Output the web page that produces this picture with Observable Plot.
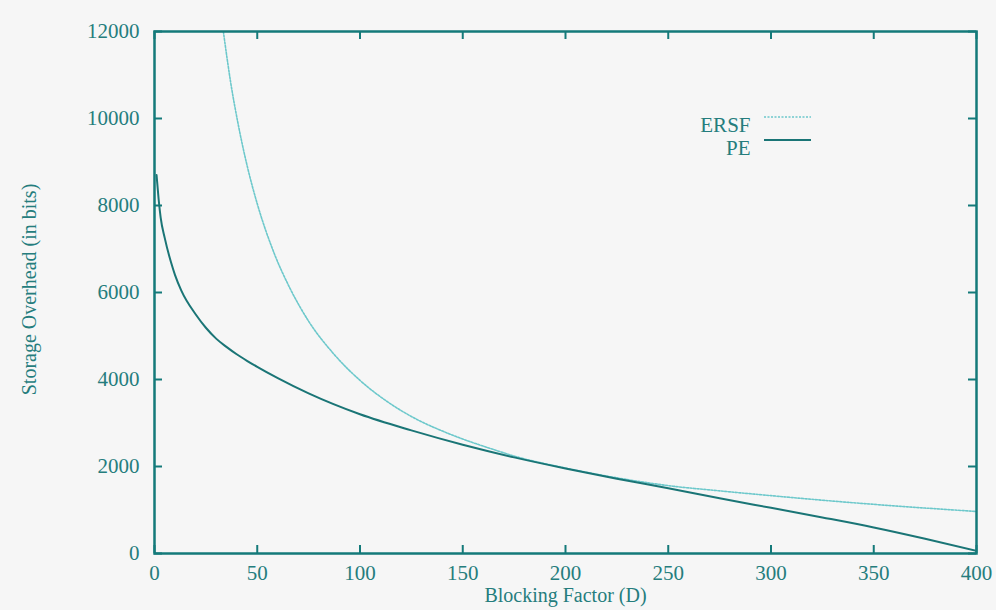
<!DOCTYPE html>
<html>
<head>
<meta charset="utf-8">
<script src="https://cdn.jsdelivr.net/npm/d3@7"></script>
<script src="https://cdn.jsdelivr.net/npm/@observablehq/plot@0.6"></script>
<style>
  html, body { margin: 0; padding: 0; background: #f6f6f6; }
  #chart { width: 996px; height: 610px; }
  #chart svg text { font-family: 'Liberation Serif', 'Times New Roman', serif; }
</style>
</head>
<body>
<div id="chart"></div>
<script>
// Blocking factor D and storage overhead (bits)
const peD =     [1,    2,    3,    5,    8,    10,   13,   20,   25,   30,   35,   40,   45,   50,   60,   75,   100,  125,  150,  175,  200,  225,  250,  275,  300,  325,  350, 375, 400];
const peBits =  [8700, 8150, 7720, 7250, 6700, 6400, 6050, 5500, 5190, 4940, 4750, 4580, 4430, 4290, 4030, 3680, 3200, 2830, 2500, 2210, 1955, 1720, 1500, 1270, 1050, 830,  600, 340, 60];

const ersfD =    [33.5,  37,    41,   45,   50,   58,   66,   75,   87,   100,  113,  125,  144,  165,  175,  200,  230,  250,  275,  300,  325,  350,  375,  400];
const ersfBits = [12000, 10850, 9800, 8930, 8040, 6930, 6090, 5340, 4600, 3980, 3500, 3150, 2740, 2390, 2240, 1965, 1700, 1560, 1440, 1330, 1225, 1130, 1045, 966];

const xTicks = [0, 50, 100, 150, 200, 250, 300, 350, 400];
const yTicks = [0, 2000, 4000, 6000, 8000, 10000, 12000];
const seriesNames = ["ERSF", "PE"];
const xLabel = "Blocking Factor (D)";
const yLabel = "Storage Overhead (in bits)";

const pe = peD.map((d, i) => ({D: d, v: peBits[i]}));
const ersf = ersfD.map((d, i) => ({D: d, v: ersfBits[i]}));

const W = 996, H = 610;
const mL = 154, mR = 20, mT = 31, mB = 57;
const fw = W - mL - mR, fh = H - mT - mB;
const tickLen = 8;
const ink = "#257d7d";
const frameCol = "#147a7a";
const peCol = "#1a7576";
const ersfCol = "#6cc8cb";
const fs = 21;
const ls = "letter-spacing:1.6px";

const chart = Plot.plot({
  width: W, height: H,
  marginLeft: mL, marginRight: mR, marginTop: mT, marginBottom: mB,
  style: {background: "#f6f6f6", fontSize: fs + "px", color: ink},
  x: {domain: [0, 400], ticks: xTicks},
  y: {domain: [0, 12000], ticks: yTicks},
  marks: [
    Plot.axisX(xTicks, {tickSize: 0, tickPadding: 12, fill: ink, label: null, fontSize: fs, tickFormat: d => String(d), style: ls}),
    Plot.axisY(yTicks, {tickSize: 0, tickPadding: 15, fill: ink, label: null, fontSize: fs, tickFormat: d => String(d), style: ls}),
    // inward ticks on all four sides
    Plot.tickX(xTicks, {x: d => d, insetTop: fh - tickLen, stroke: frameCol, strokeWidth: 2}),
    Plot.tickX(xTicks, {x: d => d, insetBottom: fh - tickLen, stroke: frameCol, strokeWidth: 2}),
    Plot.tickY(yTicks, {y: d => d, insetRight: fw - tickLen, stroke: frameCol, strokeWidth: 2}),
    Plot.tickY(yTicks, {y: d => d, insetLeft: fw - tickLen, stroke: frameCol, strokeWidth: 2}),
    Plot.line(ersf, {x: "D", y: "v", stroke: ersfCol, strokeWidth: 1.6, strokeDasharray: "2,1.5", curve: "monotone-x", clip: true}),
    Plot.line(pe, {x: "D", y: "v", stroke: peCol, strokeWidth: 2, curve: "monotone-x", clip: true}),
    Plot.frame({stroke: frameCol, strokeWidth: 2.5}),
    Plot.text([xLabel], {frameAnchor: "bottom", dy: 48, fill: ink, fontSize: fs - 1, style: ls}),
    Plot.text([yLabel], {frameAnchor: "left", dx: -125, dy: -3, rotate: -90, textAnchor: "middle", fill: ink, fontSize: fs - 1, style: "letter-spacing:0.6px"}),
    Plot.text([seriesNames[0]], {frameAnchor: "top-right", dx: -226, dy: 86, textAnchor: "end", fill: ink, fontSize: fs, style: ls}),
    Plot.text([seriesNames[1]], {frameAnchor: "top-right", dx: -226, dy: 109, textAnchor: "end", fill: ink, fontSize: fs, style: ls})
  ]
});

// legend sample lines
const svg = d3.select(chart);
const lx1 = W - mR - 212, lx2 = W - mR - 165;
svg.append("line").attr("x1", lx1).attr("x2", lx2).attr("y1", mT + 86).attr("y2", mT + 86)
  .attr("stroke", ersfCol).attr("stroke-width", 1.6).attr("stroke-dasharray", "2,1.5");
svg.append("line").attr("x1", lx1).attr("x2", lx2).attr("y1", mT + 109).attr("y2", mT + 109)
  .attr("stroke", peCol).attr("stroke-width", 2);

document.getElementById("chart").appendChild(chart);
</script>
</body>
</html>
